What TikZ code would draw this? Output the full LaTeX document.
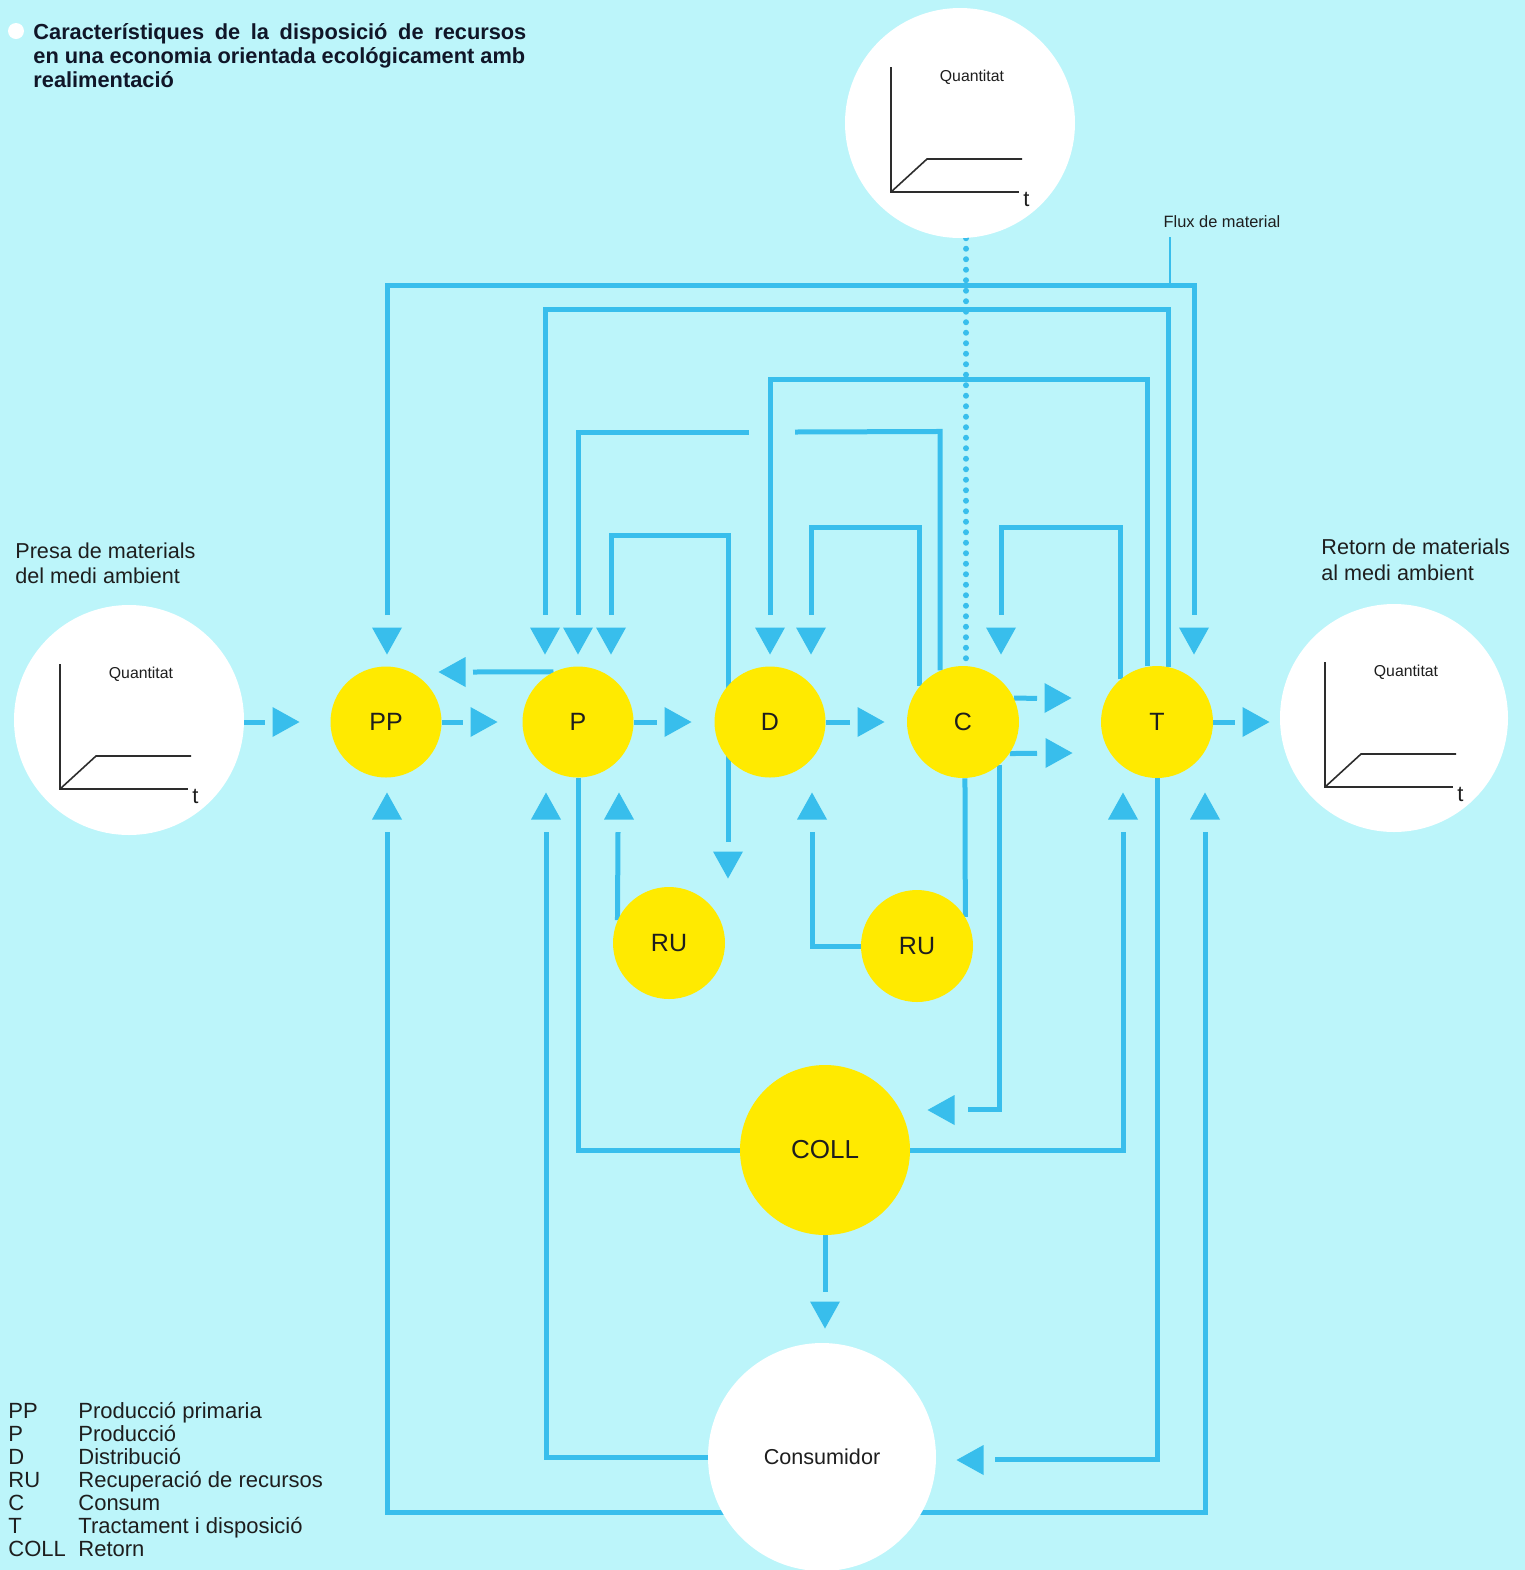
\documentclass[tikz,border=0pt]{standalone}
\usepackage{fontspec}
\setmainfont{Liberation Sans}
\usetikzlibrary{calc}
\definecolor{bgc}{RGB}{188,245,250}
\definecolor{flowc}{RGB}{56,190,236}
\definecolor{sunc}{RGB}{255,234,0}
\definecolor{inkc}{RGB}{30,30,30}
\definecolor{titlec}{RGB}{16,22,40}
\definecolor{axisc}{RGB}{45,45,45}
\pgfdeclarelayer{bglayer}
\pgfdeclarelayer{linelayer}
\pgfsetlayers{bglayer,linelayer,main}
\tikzset{
  flow/.style={draw=flowc, line width=2.5pt},
  dotline/.style={draw=flowc, line width=3pt, line cap=round, dash pattern=on 0pt off 5.25pt},
  pointer/.style={draw=flowc, line width=0.8pt},
  sun/.style={circle, fill=sunc, inner sep=0pt, minimum size=#1, font=\fontsize{12.5}{15}\selectfont, text=inkc},
  env/.style={circle, fill=white, inner sep=0pt, minimum size=#1},
  axisline/.style={draw=axisc, line width=0.8pt},
  qfont/.style={font=\fontsize{7.9}{9}\selectfont, text=inkc, inner sep=0pt},
  tfont/.style={font=\fontsize{11}{13}\selectfont, text=inkc, inner sep=0pt, anchor=base west},
  lbl/.style={font=\fontsize{10.8}{13}\selectfont, text=inkc, inner sep=0pt, anchor=base west},
  leg/.style={font=\fontsize{11}{13}\selectfont, text=inkc, inner sep=0pt, anchor=base west},
  titl/.style={font=\fontsize{10.9}{12}\selectfont\bfseries, text=titlec, inner sep=0pt, anchor=base west},
  arrD/.pic={\fill[flowc] (-15,-13.5) -- (15,-13.5) -- (0,13.5) -- cycle;},
  arrU/.pic={\fill[flowc] (-15,13.5) -- (15,13.5) -- (0,-13.5) -- cycle;},
  arrR/.pic={\fill[flowc] (-13.5,-15) -- (-13.5,15) -- (13.5,0) -- cycle;},
  arrL/.pic={\fill[flowc] (13.5,-15) -- (13.5,15) -- (-13.5,0) -- cycle;},
  axes/.pic={\draw[axisline] (-69,-56) -- (-69,69) -- (59,69);
             \draw[axisline] (-69,69) -- (-33,36) -- (62,36);}
}
\begin{document}
\begin{tikzpicture}[x=0.5pt,y=-0.5pt]
\begin{pgfonlayer}{bglayer}
\fill[bgc] (0,0) rectangle (1525,1570);
\end{pgfonlayer}
\useasboundingbox (0,0) rectangle (1525,1570);

% ---------- title ----------
\node[circle, fill=white, minimum size=8pt, inner sep=0pt] (bullet) at (16,31) {};
\node[titl] (ti1) at (33,39) {\makebox[246.5pt][s]{Característiques de la disposició de recursos}};
\node[titl] (ti2) at (33,63) {en una economia orientada ecológicament amb};
\node[titl] (ti3) at (33,87) {realimentació};

% ---------- environment circles ----------
\node[env=115pt] (envL) at (129,720) {};
\node[env=115pt] (envT) at (960,123) {};
\node[env=114pt] (envR) at (1394,718) {};
\node[env=114pt, font=\fontsize{10.8}{13}\selectfont, text=inkc] (Cons) at (822,1457) {Consumidor};

\begin{scope}[shift={(envL.center)}]
  \pic {axes};
  \node[qfont] (qL) at (12,-46) {Quantitat};
  \node[tfont] (tL) at (63,83) {t};
\end{scope}
\begin{scope}[shift={(envT.center)}]
  \pic {axes};
  \node[qfont] (qT) at (12,-46) {Quantitat};
  \node[tfont] (tT) at (63,83) {t};
\end{scope}
\begin{scope}[shift={(envR.center)}]
  \pic {axes};
  \node[qfont] (qR) at (12,-46) {Quantitat};
  \node[tfont] (tR) at (63,83) {t};
\end{scope}

\node[lbl] (inL1) at (15,558) {Presa de materials};
\node[lbl] (inL2) at (15,583) {del medi ambient};
\node[lbl] (outR1) at (1321,554) {Retorn de materials};
\node[lbl] (outR2) at (1321,580) {al medi ambient};
\node[font=\fontsize{8.2}{10}\selectfont, text=inkc, inner sep=0pt] (flux) at (1222,222) {Flux de material};

% ---------- process circles ----------
\node[sun=55.5pt] (PP) at (386,722) {PP};
\node[sun=55.5pt] (P) at (578,722) {P};
\node[sun=55.5pt] (D) at (770,722) {D};
\node[sun=56pt] (C) at (963,722) {C};
\node[sun=56pt] (T) at (1157,722) {T};
\node[sun=56pt] (RU1) at (669,943) {RU};
\node[sun=56pt] (RU2) at (917,946) {RU};
\node[sun=85pt, font=\fontsize{13}{15}\selectfont] (COLL) at (825,1150) {COLL};

% ---------- coordinates ----------
% line ends above nodes
\coordinate (ePP1) at (387,615);
\coordinate (eP1) at (545,615);
\coordinate (eP2) at (578,615);
\coordinate (eP3) at (611,615);
\coordinate (eD1) at (770,615);
\coordinate (eD2) at (811,615);
\coordinate (eC1) at (1001,615);
\coordinate (eT1) at (1194,615);
\coordinate (gapR) at (795,432);
\coordinate (gapL) at (749,432);
\coordinate (eRUd) at (728,842);
\coordinate (ePPb) at (473,672);
% stubs
\coordinate (sL) at (265,722);
\coordinate (s1) at (463,722);
\coordinate (s2) at (657,722);
\coordinate (s3) at (850,722);
\coordinate (s4a) at (1037,698.3);
\coordinate (s4b) at (1037,753.3);
\coordinate (s5) at (1235,722);
% line ends below nodes
\coordinate (ePPu) at (387,832);
\coordinate (ePu1) at (546,832);
\coordinate (ePu2) at (618,832);
\coordinate (eDu) at (812,832);
\coordinate (eTu1) at (1123,832);
\coordinate (eTu2) at (1205,832);
\coordinate (eCOLLin) at (968,1109);
\coordinate (eConsIn) at (995,1459);
\coordinate (eCOLLout) at (825,1292);
\coordinate (fluxtop) at (1170,237);
\coordinate (fluxfoot) at (1170,284);

% ---------- connectors ----------
\begin{pgfonlayer}{linelayer}
\draw[pointer] (fluxtop) -- (fluxfoot);
\draw[dotline] (envT.273) -- (C.87);
% top feedback
\draw[flow] (ePP1) -- ++(0,-330) -| (eT1);
\draw[flow] (T.78) -- ++(0,-357) -| (eP1);
\draw[flow] (T.100) -- ++(0,-287) -| (eD1);
\draw[flow] (T.131) -- ++(0,-152) -| (eC1);
\draw[flow] (C.140) -- ++(0,-158) -| (eD2);
\draw[flow] (C.114) -- ++(0,-239) -- (gapR);
\draw[flow] (gapL) -| (eP2);
\draw[flow] (eRUd) -- ++(0,-307) -| (eP3);
\draw[flow] (P.116) -- (ePPb);
% main row
\draw[flow] (envL.east |- PP.west) -- (sL);
\draw[flow] (PP.east) -- (s1);
\draw[flow] (P.east) -- (s2);
\draw[flow] (D.east) -- (s3);
\draw[flow] (C.25) -- (s4a);
\draw[flow] (C.-34) -- (s4b);
\draw[flow] (T.east) -- (s5);
% bottom
\draw[flow] (ePPu) -- ++(0,680) -| (eTu2);
\draw[flow] (Cons.west) -| (ePu1);
\draw[flow] (P.south) |- (COLL.west);
\draw[flow] (RU1.156) -- (ePu2);
\draw[flow] (RU2.west) -| (eDu);
\draw[flow] (C.272) -- (RU2.31);
\draw[flow] (C.-50) |- (eCOLLin);
\draw[flow] (COLL.east) -| (eTu1);
\draw[flow] (T.south) |- (eConsIn);
\draw[flow] (COLL.south) -- (eCOLLout);
\end{pgfonlayer}

% ---------- arrowheads ----------
\pic at (387,641) {arrD};
\pic at (545,641) {arrD};
\pic at (578,641) {arrD};
\pic at (611,641) {arrD};
\pic at (770,641) {arrD};
\pic at (811,641) {arrD};
\pic at (1001,641) {arrD};
\pic at (1194,641) {arrD};
\pic at (728,865) {arrD};
\pic at (825,1315) {arrD};
\pic at (387,806) {arrU};
\pic at (546,806) {arrU};
\pic at (619,806) {arrU};
\pic at (812,806) {arrU};
\pic at (1123,806) {arrU};
\pic at (1205,806) {arrU};
\pic at (286,722) {arrR};
\pic at (484,722) {arrR};
\pic at (678,722) {arrR};
\pic at (871,722) {arrR};
\pic at (1058,698) {arrR};
\pic at (1059,753) {arrR};
\pic at (1256,722) {arrR};
\pic at (452,672) {arrL};
\pic at (941,1110) {arrL};
\pic at (970,1460) {arrL};

% ---------- legend ----------
\node[leg] (lg1a) at (8,1418) {PP};
\node[leg] (lg1b) at (78,1418) {Producció primaria};
\node[leg] (lg2a) at (8,1441) {P};
\node[leg] (lg2b) at (78,1441) {Producció};
\node[leg] (lg3a) at (8,1464) {D};
\node[leg] (lg3b) at (78,1464) {Distribució};
\node[leg] (lg4a) at (8,1487) {RU};
\node[leg] (lg4b) at (78,1487) {Recuperació de recursos};
\node[leg] (lg5a) at (8,1510) {C};
\node[leg] (lg5b) at (78,1510) {Consum};
\node[leg] (lg6a) at (8,1533) {T};
\node[leg] (lg6b) at (78,1533) {Tractament i disposició};
\node[leg] (lg7a) at (8,1556) {COLL};
\node[leg] (lg7b) at (78,1556) {Retorn};
\end{tikzpicture}
\end{document}
